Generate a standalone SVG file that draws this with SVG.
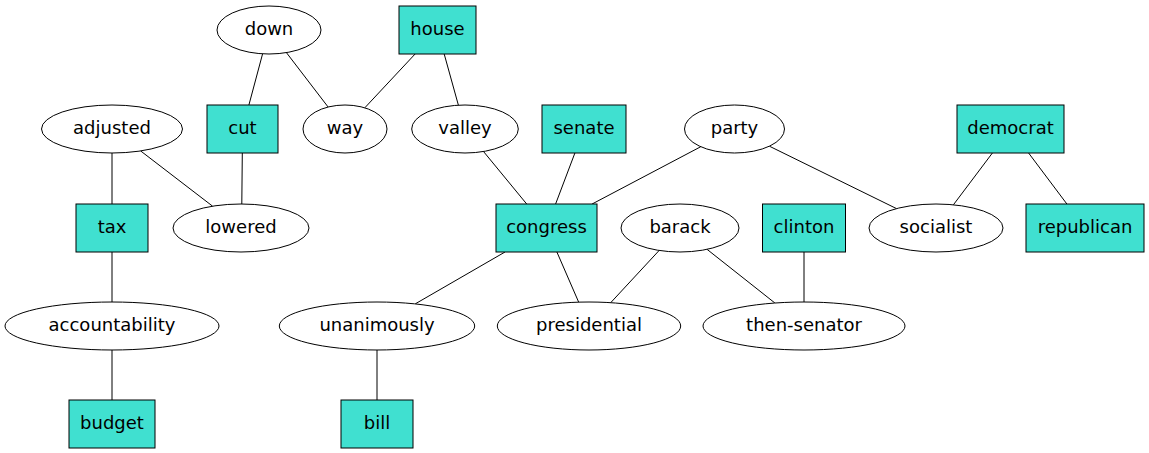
<svg xmlns="http://www.w3.org/2000/svg" width="1149" height="453" viewBox="0 0 1149 453">
<style>
.n ellipse{fill:#ffffff;stroke:#000000;stroke-width:1}
.n rect{fill:#40e0d0;stroke:#000000;stroke-width:1}
.n text{font-family:"DejaVu Sans","Liberation Sans",sans-serif;font-size:18px;fill:#000000;text-anchor:middle}
#edges line{stroke:#000000;stroke-width:1}
</style>
<rect width="1149" height="453" fill="#ffffff"/>
<g id="edges">
<line x1="262.6" y1="53.8" x2="248.9" y2="105"/>
<line x1="286.4" y1="52.6" x2="328.1" y2="107"/>
<line x1="415.1" y1="54" x2="364.8" y2="107.8"/>
<line x1="444.2" y1="54" x2="458.4" y2="105.2"/>
<line x1="112" y1="153" x2="112" y2="204"/>
<line x1="140.6" y1="150.9" x2="212.6" y2="206.2"/>
<line x1="242.3" y1="153" x2="241.8" y2="204"/>
<line x1="483.5" y1="151.5" x2="526.7" y2="204"/>
<line x1="574.9" y1="153" x2="555.6" y2="204"/>
<line x1="700.8" y1="146.7" x2="592.1" y2="204"/>
<line x1="769.4" y1="146.2" x2="896.5" y2="208.6"/>
<line x1="992.4" y1="153" x2="953.4" y2="204.8"/>
<line x1="1028.6" y1="153" x2="1066.9" y2="204"/>
<line x1="112" y1="252" x2="112" y2="302"/>
<line x1="112" y1="350" x2="112" y2="400"/>
<line x1="505" y1="252" x2="415.2" y2="303.9"/>
<line x1="556.9" y1="252" x2="578.7" y2="302.2"/>
<line x1="659.2" y1="250.4" x2="610.7" y2="302.7"/>
<line x1="707" y1="249.3" x2="774.9" y2="303"/>
<line x1="804" y1="252" x2="804" y2="302"/>
<line x1="377" y1="350" x2="377" y2="400"/>
</g>
<g id="down" class="n"><ellipse cx="269" cy="30" rx="52" ry="24"/><text x="269" y="35">down</text></g>
<g id="house" class="n"><rect x="399" y="6" width="77" height="48"/><text x="437.5" y="35">house</text></g>
<g id="adjusted" class="n"><ellipse cx="112" cy="129" rx="70.5" ry="24"/><text x="112" y="134">adjusted</text></g>
<g id="cut" class="n"><rect x="207" y="105" width="71" height="48"/><text x="242.5" y="134">cut</text></g>
<g id="way" class="n"><ellipse cx="345" cy="129" rx="42" ry="24"/><text x="345" y="134">way</text></g>
<g id="valley" class="n"><ellipse cx="465" cy="129" rx="53.3" ry="24"/><text x="465" y="134">valley</text></g>
<g id="senate" class="n"><rect x="542" y="105" width="84" height="48"/><text x="584" y="134">senate</text></g>
<g id="party" class="n"><ellipse cx="734.5" cy="129" rx="50" ry="24"/><text x="734.5" y="134">party</text></g>
<g id="democrat" class="n"><rect x="957" y="105" width="107" height="48"/><text x="1010.5" y="134">democrat</text></g>
<g id="tax" class="n"><rect x="76" y="204" width="72" height="48"/><text x="112" y="233">tax</text></g>
<g id="lowered" class="n"><ellipse cx="241" cy="228" rx="68" ry="24"/><text x="241" y="233">lowered</text></g>
<g id="congress" class="n"><rect x="496" y="204" width="101" height="48"/><text x="546.5" y="233">congress</text></g>
<g id="barack" class="n"><ellipse cx="680" cy="228" rx="59" ry="24"/><text x="680" y="233">barack</text></g>
<g id="clinton" class="n"><rect x="762.5" y="204" width="83" height="48"/><text x="804" y="233">clinton</text></g>
<g id="socialist" class="n"><ellipse cx="936" cy="228" rx="67" ry="24"/><text x="936" y="233">socialist</text></g>
<g id="republican" class="n"><rect x="1026" y="204" width="118" height="48"/><text x="1085" y="233">republican</text></g>
<g id="accountability" class="n"><ellipse cx="112" cy="326" rx="107" ry="24"/><text x="112" y="331">accountability</text></g>
<g id="unanimously" class="n"><ellipse cx="377" cy="326" rx="97.7" ry="24"/><text x="377" y="331">unanimously</text></g>
<g id="presidential" class="n"><ellipse cx="589" cy="326" rx="91.7" ry="24"/><text x="589" y="331">presidential</text></g>
<g id="then-senator" class="n"><ellipse cx="804" cy="326" rx="101" ry="24"/><text x="804" y="331">then-senator</text></g>
<g id="budget" class="n"><rect x="69" y="400" width="86" height="48"/><text x="112" y="429">budget</text></g>
<g id="bill" class="n"><rect x="341" y="400" width="72" height="48"/><text x="377" y="429">bill</text></g>
</svg>
